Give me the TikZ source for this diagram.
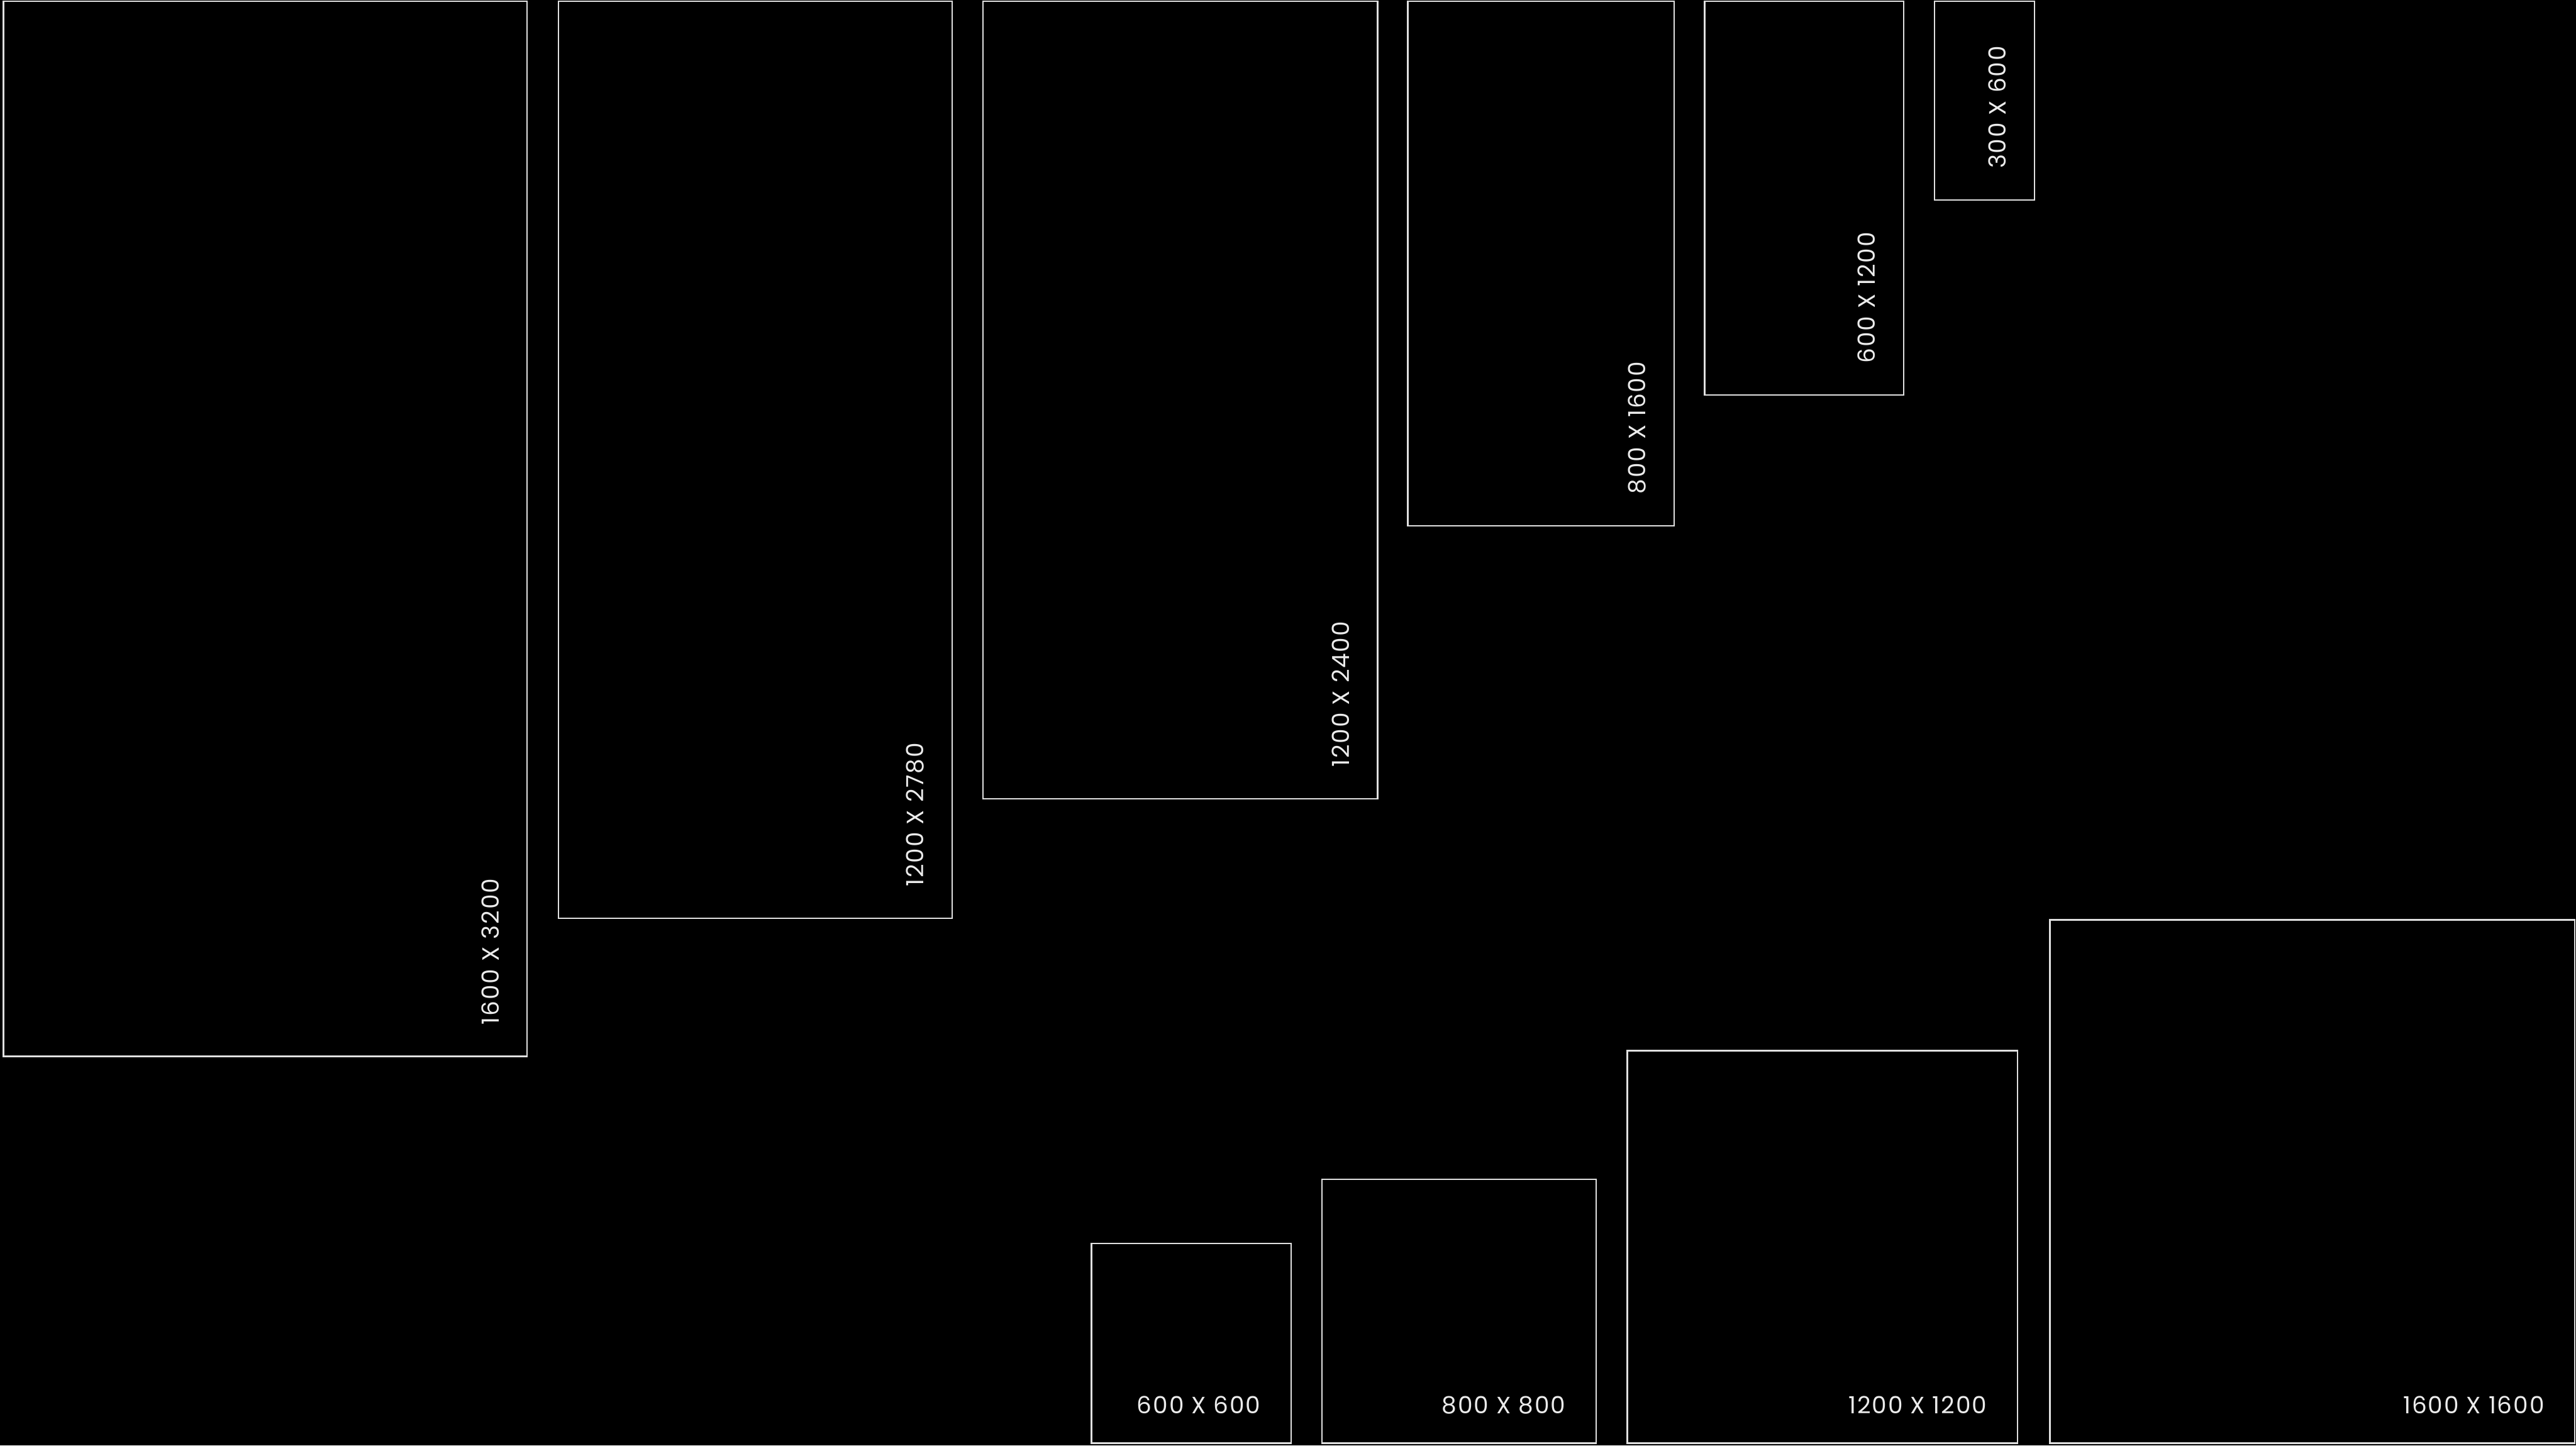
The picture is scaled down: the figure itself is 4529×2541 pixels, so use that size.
\documentclass[tikz,border=0pt]{standalone}
\usepackage{fontspec}
\setmainfont{Poppins}[LetterSpace=5]
\begin{document}
\begin{tikzpicture}[x=0.01cm, y=-0.01cm]
    \tikzset{
        frame/.style={draw=white!88!black, line width=0.7pt},
        sizelabel/.style={text=white!92!black, font=\fontsize{11.8}{12}\selectfont, inner sep=0pt},
    }
    % 背景
    \fill[black] (0,0) rectangle (4529,2541);
    \useasboundingbox (0,0) rectangle (4529,2541);
    % 竖版尺寸
    \foreach \xa/\xb/\yb/\lbl [count=\i] in {6/927/1857/1600 X 3200, 982/1674/1614/1200 X 2780, 1728/2422/1404/1200 X 2400, 2475/2943/924/800 X 1600, 2997/3347/694/600 X 1200, 3401/3577/352/300 X 600} {
        \draw[frame] (\xa,2) rectangle (\xb,\yb);
        \node[sizelabel, rotate=90, anchor=base west] (v\i) at (\xb-50,\yb-55) {\lbl};
    }
    % 方形尺寸
    \foreach \xa/\ya/\xb/\lbl [count=\i] in {1919/2186/2270/600 X 600, 2324/2073/2806/800 X 800, 2861/1847/3547/1200 X 1200, 3604/1617/4527/1600 X 1600} {
        \draw[frame] (\xa,\ya) rectangle (\xb,2537);
        \node[sizelabel, anchor=base east] (s\i) at (\xb-53,2485) {\lbl};
    }
\end{tikzpicture}
\end{document}
